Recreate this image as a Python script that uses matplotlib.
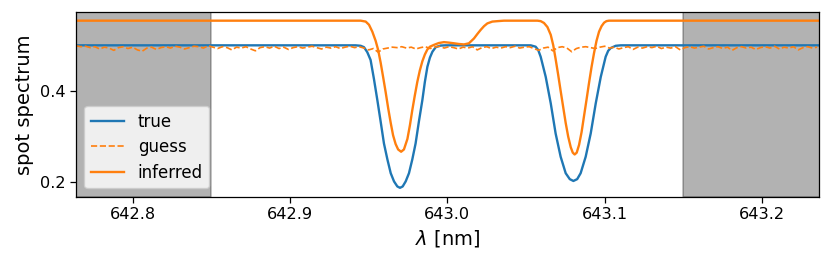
import numpy as np
import matplotlib
matplotlib.use("Agg")
import matplotlib.pyplot as plt
from matplotlib.ticker import FormatStrFormatter

# ---- data ----
true_wl = [642.764, 642.9417, 642.9449, 642.9470, 642.9491, 642.9512, 642.9533, 642.9555,
           642.9576, 642.9597, 642.9619, 642.9640, 642.9661, 642.9682, 642.9699, 642.9716,
           642.9735, 642.9756, 642.9777, 642.9798, 642.9819, 642.9841, 642.9857, 642.9873,
           642.9889, 642.9905, 642.9926, 642.9957, 642.9989,
           643.0530, 643.0561, 643.0577, 643.0593, 643.0625, 643.0657, 643.0688, 643.0720,
           643.0752, 643.0778, 643.0801, 643.0825, 643.0847, 643.0879, 643.0911, 643.0943,
           643.0975, 643.1006, 643.1022, 643.1038, 643.1070, 643.1102, 643.236]
true_val = [0.5, 0.5, 0.499, 0.496, 0.485, 0.468, 0.427, 0.380,
            0.333, 0.285, 0.250, 0.220, 0.202, 0.191, 0.188, 0.191,
            0.202, 0.220, 0.250, 0.285, 0.333, 0.380, 0.420, 0.453,
            0.473, 0.486, 0.496, 0.4995, 0.5,
            0.5, 0.497, 0.490, 0.475, 0.431, 0.373, 0.307, 0.256,
            0.220, 0.207, 0.203, 0.207, 0.220, 0.256, 0.307, 0.373,
            0.431, 0.475, 0.488, 0.494, 0.499, 0.5, 0.5]

inferred_wl = [642.764, 642.9417, 642.9449, 642.9481, 642.9502, 642.9523, 642.9544, 642.9560,
               642.9576, 642.9592, 642.9608, 642.9624, 642.9640, 642.9655, 642.9671, 642.9687,
               642.9706, 642.9724, 642.9746, 642.9762, 642.9777, 642.9793, 642.9809, 642.9825,
               642.9841, 642.9857, 642.9873, 642.9889, 642.9915, 642.9945, 642.9978, 643.0008,
               643.0042, 643.0072, 643.0106, 643.0137, 643.0169, 643.0191, 643.0212, 643.0233,
               643.0254, 643.0286, 643.0320, 643.0360, 643.0572, 643.0593, 643.0614, 643.0636,
               643.0657, 643.0673, 643.0688, 643.0704, 643.0720, 643.0736, 643.0752, 643.0768,
               643.0784, 643.0797, 643.0809, 643.0822, 643.0837, 643.0853, 643.0868, 643.0884,
               643.0900, 643.0916, 643.0932, 643.0948, 643.0964, 643.0980, 643.0996, 643.1011,
               643.1027, 643.236]
inferred_val = [0.554, 0.554, 0.554, 0.552, 0.545, 0.530, 0.510, 0.490,
                0.462, 0.430, 0.397, 0.362, 0.330, 0.303, 0.284, 0.272,
                0.267, 0.272, 0.295, 0.325, 0.358, 0.390, 0.420, 0.445,
                0.465, 0.480, 0.491, 0.497, 0.501, 0.505, 0.507, 0.506,
                0.5045, 0.503, 0.502, 0.5045, 0.515, 0.525, 0.534, 0.542,
                0.548, 0.552, 0.553, 0.554, 0.554, 0.553, 0.549, 0.540,
                0.523, 0.500, 0.470, 0.436, 0.400, 0.365, 0.330, 0.300,
                0.277, 0.265, 0.261, 0.265, 0.282, 0.310, 0.344, 0.380,
                0.417, 0.452, 0.483, 0.510, 0.530, 0.542, 0.5496, 0.553,
                0.554, 0.554]

guess_start = 642.764
guess_step = 0.003
guess_val = [0.499, 0.497, 0.498, 0.495, 0.497, 0.492, 0.496, 0.494, 0.489, 0.495,
             0.497, 0.493, 0.496, 0.490, 0.487, 0.494, 0.496, 0.491, 0.495, 0.497,
             0.494, 0.498, 0.496, 0.492, 0.495, 0.498, 0.497, 0.494, 0.499, 0.496,
             0.493, 0.497, 0.495, 0.490, 0.496, 0.494, 0.497, 0.492, 0.488, 0.495,
             0.497, 0.494, 0.498, 0.493, 0.496, 0.491, 0.495, 0.497, 0.494, 0.496,
             0.498, 0.495, 0.492, 0.496, 0.494, 0.497, 0.493, 0.496, 0.498, 0.495,
             0.497, 0.494, 0.490, 0.493, 0.485, 0.492, 0.494, 0.496, 0.495, 0.497,
             0.494, 0.496, 0.492, 0.495, 0.497, 0.493, 0.496, 0.498, 0.494, 0.497,
             0.495, 0.492, 0.496, 0.494, 0.497, 0.490, 0.495, 0.497, 0.493, 0.496,
             0.494, 0.497, 0.495, 0.498, 0.494, 0.496, 0.497, 0.493, 0.489, 0.494,
             0.496, 0.488, 0.495, 0.497, 0.494, 0.486, 0.493, 0.496, 0.497, 0.495,
             0.493, 0.496, 0.498, 0.494, 0.496, 0.492, 0.495, 0.497, 0.491, 0.496,
             0.494, 0.497, 0.495, 0.498, 0.493, 0.496, 0.494, 0.497, 0.490, 0.495,
             0.497, 0.494, 0.496, 0.498, 0.492, 0.495, 0.497, 0.493, 0.496, 0.489,
             0.495, 0.497, 0.494, 0.496, 0.491, 0.495, 0.497, 0.494, 0.498, 0.492,
             0.496, 0.494, 0.497, 0.490, 0.495, 0.497, 0.494, 0.496]
guess_wl = guess_start + guess_step * np.arange(len(guess_val))

mask_edges = [642.85, 643.15]
xlims = [642.764, 643.236]
xticks = [642.8, 642.9, 643.0, 643.1, 643.2]
yticks = [0.2, 0.4]

# ---- figure ----
fig = plt.figure(figsize=(8.31, 2.63), dpi=100)
ax = fig.add_axes([0.0915, 0.252, 0.8937, 0.7024])

ax.axvspan(xlims[0] - 0.01, mask_edges[0], color="k", alpha=0.3, lw=1.1)
ax.axvspan(mask_edges[1], xlims[1] + 0.01, color="k", alpha=0.3, lw=1.1)

ax.plot(true_wl, true_val, color="C0", lw=1.7, label="true")
ax.plot(guess_wl, guess_val, color="C1", lw=1.2, ls="--", label="guess")
ax.plot(inferred_wl, inferred_val, color="C1", lw=1.7, label="inferred")

ax.set_xlim(*xlims)
ax.set_ylim(0.1685, 0.573)
ax.set_xticks(xticks)
ax.set_yticks(yticks)
ax.xaxis.set_major_formatter(FormatStrFormatter("%.1f"))
ax.tick_params(labelsize=11.6, width=0.9, length=4)
for sp in ax.spines.values():
    sp.set_linewidth(0.9)
ax.set_xlabel(r"$\lambda$ [nm]", fontsize=14)
ax.set_ylabel("spot spectrum", fontsize=14)
ax.legend(loc="lower left", fontsize=12, labelspacing=0.45)

fig.savefig("out.png", dpi=100)
